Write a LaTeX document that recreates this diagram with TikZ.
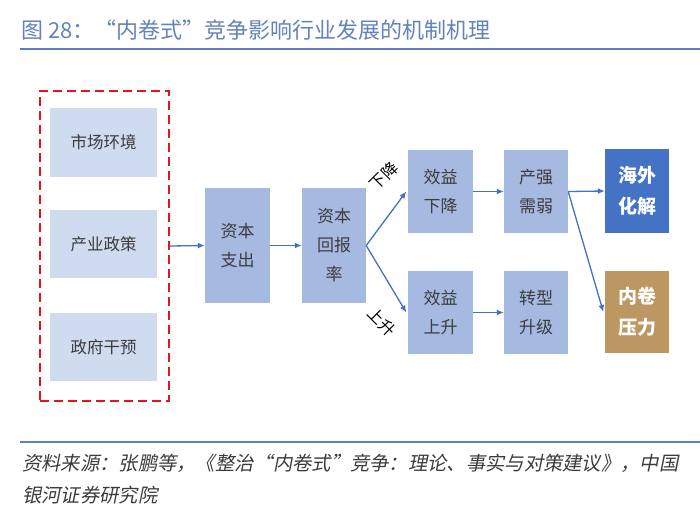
\documentclass[tikz,border=0pt]{standalone}
\usepackage{fontspec}
\setmainfont{Noto Sans CJK SC}
\newfontfamily\cjkit[FakeSlant=0.2]{Noto Sans CJK SC}
\usetikzlibrary{arrows.meta}
\definecolor{titleblue}{HTML}{6383BC}
\definecolor{lineblue}{HTML}{5B80C2}
\definecolor{lightbox}{HTML}{CFDBEF}
\definecolor{midbox}{HTML}{A6B9E1}
\definecolor{darkbox}{HTML}{4472C4}
\definecolor{tanbox}{HTML}{BC9762}
\definecolor{arrowblue}{HTML}{4472C4}
\definecolor{txt}{HTML}{3C3C3C}
\definecolor{dashred}{HTML}{E8141B}
\begin{document}
\begin{tikzpicture}[x=1pt,y=-1pt,
  lbox/.style={fill=lightbox,draw=none,minimum width=107pt,minimum height=68pt,inner sep=0pt,text=txt,font=\fontsize{16.5}{29}\selectfont},
  mbox/.style={fill=midbox,draw=none,inner sep=0pt,text=txt,align=center,font=\fontsize{17}{29}\selectfont},
  hbox/.style={draw=none,inner sep=0pt,text=white,align=center,minimum width=64pt,font=\bfseries\fontsize{19}{31}\selectfont},
  conn/.style={draw=arrowblue,line width=1.3pt,-{Latex[length=7pt,width=6pt]}},
  lbl/.style={font=\fontsize{16}{16}\selectfont,text=black,inner sep=0pt}
]
\useasboundingbox (0,0) rectangle (700,513);
\fill[white] (0,0) rectangle (700,513);
% title
\node[anchor=west,text=titleblue,font=\fontsize{22}{22}\selectfont,inner sep=0pt] (title) at (21,30) {图 28：“内卷式”竞争影响行业发展的机制机理};
\coordinate (tl1) at (20,49);
\coordinate (tl2) at (700,49);
\draw[lineblue,line width=2pt] (tl1) -- (tl2);
% left dashed group
\node[draw=dashred,line width=2.4pt,dash pattern=on 9pt off 5pt,minimum width=129pt,minimum height=310pt,inner sep=0pt] (grp) at (104.5,246) {};
\node[lbox] (m1) at (103.5,142.5) {市场环境};
\node[lbox] (m2) at (103.5,244) {产业政策};
\node[lbox] (m3) at (103.5,347) {政府干预};
% middle
\node[mbox,minimum width=65pt,minimum height=115pt] (zc) at (237.5,245.5) {资本\\支出};
\node[mbox,minimum width=64pt,minimum height=115pt] (rr) at (334,245.5) {资本\\回报\\率};
\node[mbox,minimum width=65pt,minimum height=83pt] (xj) at (440.5,191.5) {效益\\下降};
\node[mbox,minimum width=65pt,minimum height=83pt] (ss) at (440.5,312.5) {效益\\上升};
\node[mbox,minimum width=64pt,minimum height=83pt] (cq) at (536,191.5) {产强\\需弱};
\node[mbox,minimum width=64pt,minimum height=83pt] (zx) at (536,312.5) {转型\\升级};
\node[hbox,fill=darkbox,minimum height=84pt] (hw) at (637,191) {海外\\化解};
\node[hbox,fill=tanbox,minimum height=82pt] (nj) at (637,312) {内卷\\压力};
% connectors
\draw[conn] (grp.east) -- (zc.west);
\draw[conn] (zc.east) -- (rr.west);
\draw[conn] (rr.east) -- ([xshift=-1.5pt]xj.west);
\draw[conn] (rr.east) -- ([xshift=-1.5pt]ss.west);
\draw[conn] (xj.east) -- (cq.west);
\draw[conn] (ss.east) -- (zx.west);
\draw[conn] (cq.east) -- (hw.west);
\draw[conn] (cq.east) -- ([xshift=-1.5pt]nj.west);
\node[lbl,rotate=45] (ld) at (384,176) {下降};
\node[lbl,rotate=-45] (ls) at (382,322) {上升};
% bottom
\coordinate (bl1) at (20,442);
\coordinate (bl2) at (700,442);
\draw[lineblue,line width=1.3pt] (bl1) -- (bl2);
\node[anchor=west,text=txt,font=\cjkit\fontsize{19.3}{19.3}\selectfont,inner sep=0pt] (src1) at (22,463) {资料来源：张鹏等，《整治“内卷式”竞争：理论、事实与对策建议》，中国};
\node[anchor=west,text=txt,font=\cjkit\fontsize{19.3}{19.3}\selectfont,inner sep=0pt] (src2) at (22,495) {银河证券研究院};
\end{tikzpicture}
\end{document}
